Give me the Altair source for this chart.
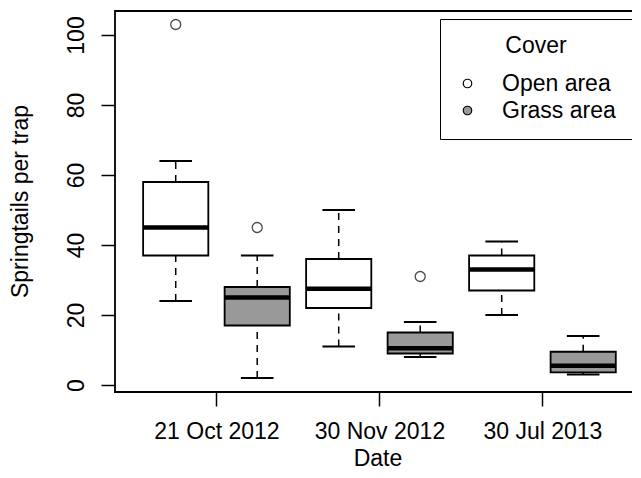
import altair as alt
import pandas as pd

# ---- data ----
dates = ["21 Oct 2012", "30 Nov 2012", "30 Jul 2013"]
covers = ["Open area", "Grass area"]
box_pos = [1, 2, 3, 4, 5, 6]
box_cover = ["Open area", "Grass area", "Open area", "Grass area", "Open area", "Grass area"]
whisk_low = [24, 2, 11, 8, 20, 3]
q1 = [37, 17, 22, 9, 27, 3.6]
median = [45, 25, 27.5, 10.5, 33, 5.5]
q3 = [58, 28, 36, 15, 37, 9.5]
whisk_high = [64, 37, 50, 18, 41, 14]
out_pos = [1, 2, 4]
out_val = [103, 45, 31]
date_tick_pos = [1.5, 3.5, 5.5]
y_ticks = [0, 20, 40, 60, 80, 100]

FONT = "Liberation Sans"
FS = 23

boxes = pd.DataFrame({
    "pos": box_pos, "cover": box_cover, "lo": whisk_low, "q1": q1,
    "med": median, "q3": q3, "hi": whisk_high,
})
outs = pd.DataFrame({"pos": out_pos, "val": out_val})

label_expr = ("datum.value == 1.5 ? '%s' : datum.value == 3.5 ? '%s' : datum.value == 5.5 ? '%s' : ''"
              % tuple(dates))

xscale = alt.Scale(domain=[0.255, 6.697], nice=False, zero=False)
yscale = alt.Scale(domain=[-2, 106.86], nice=False, zero=False)

xaxis = alt.Axis(values=date_tick_pos, labelExpr=label_expr, title="Date",
                 titleY=73, titleBaseline="alphabetic", labelPadding=14,
                 labelBaseline="top", grid=False)
yaxis = alt.Axis(values=y_ticks, title="Springtails per  trap", labelAngle=270,
                 labelAlign="center", labelBaseline="alphabetic", labelPadding=18,
                 titleAngle=270, titleX=-88, titleY=190, titleBaseline="alphabetic",
                 titleAlign="center", grid=False)

base = alt.Chart(boxes).transform_calculate(
    xl="datum.pos - 0.4", xr="datum.pos + 0.4",
    cl="datum.pos - 0.2", cr="datum.pos + 0.2",
)

whisk_up = base.mark_rule(color="black", strokeWidth=1.5, strokeDash=[7, 6]).encode(
    x=alt.X("pos:Q", scale=xscale, axis=xaxis),
    y=alt.Y("q3:Q", scale=yscale, axis=yaxis),
    y2="hi:Q",
)
whisk_dn = base.mark_rule(color="black", strokeWidth=1.5, strokeDash=[7, 6]).encode(
    x="pos:Q", y="lo:Q", y2="q1:Q",
)
cap_hi = base.mark_rule(color="black", strokeWidth=1.8).encode(
    x="cl:Q", x2="cr:Q", y="hi:Q",
)
cap_lo = base.mark_rule(color="black", strokeWidth=1.8).encode(
    x="cl:Q", x2="cr:Q", y="lo:Q",
)
box = base.mark_bar(stroke="black", strokeWidth=1.8).encode(
    x="xl:Q", x2="xr:Q", y="q1:Q", y2="q3:Q",
    fill=alt.Fill("cover:N", scale=alt.Scale(domain=covers, range=["white", "#999999"]),
                  legend=alt.Legend(title="Cover", orient="none", legendX=325, legendY=8,
                                    titleAnchor="middle", titleFontWeight="normal",
                                    titleFontSize=FS, titleFont=FONT, titleColor="black",
                                    labelFontSize=FS, labelFont=FONT, labelColor="black",
                                    symbolType="circle", symbolSize=72,
                                    symbolStrokeColor="black", symbolStrokeWidth=1.2,
                                    labelOffset=23, rowPadding=3, titlePadding=14,
                                    padding=16, strokeColor="black", fillColor="white")),
)
med = base.mark_rule(color="black", strokeWidth=4.5).encode(
    x="xl:Q", x2="xr:Q", y="med:Q",
)
pts = alt.Chart(outs).mark_point(shape="circle", filled=False, color="black",
                                 size=100, strokeWidth=1.3).encode(
    x="pos:Q", y="val:Q",
)

chart = alt.layer(whisk_up, whisk_dn, cap_hi, cap_lo, box, med, pts).properties(
    width=525, height=381,
    padding={"left": 107, "top": 3, "right": -8, "bottom": 78},
    autosize=alt.AutoSizeParams(type="none"),
).configure_view(
    stroke="black", strokeWidth=1.8
).configure_axis(
    domain=False, tickColor="black", tickSize=14, tickWidth=1.5,
    labelFont=FONT, labelFontSize=FS, labelColor="black",
    titleFont=FONT, titleFontSize=FS, titleColor="black", titleFontWeight="normal",
)

chart.save("out.html", embed_options={"renderer": "svg", "actions": False})
